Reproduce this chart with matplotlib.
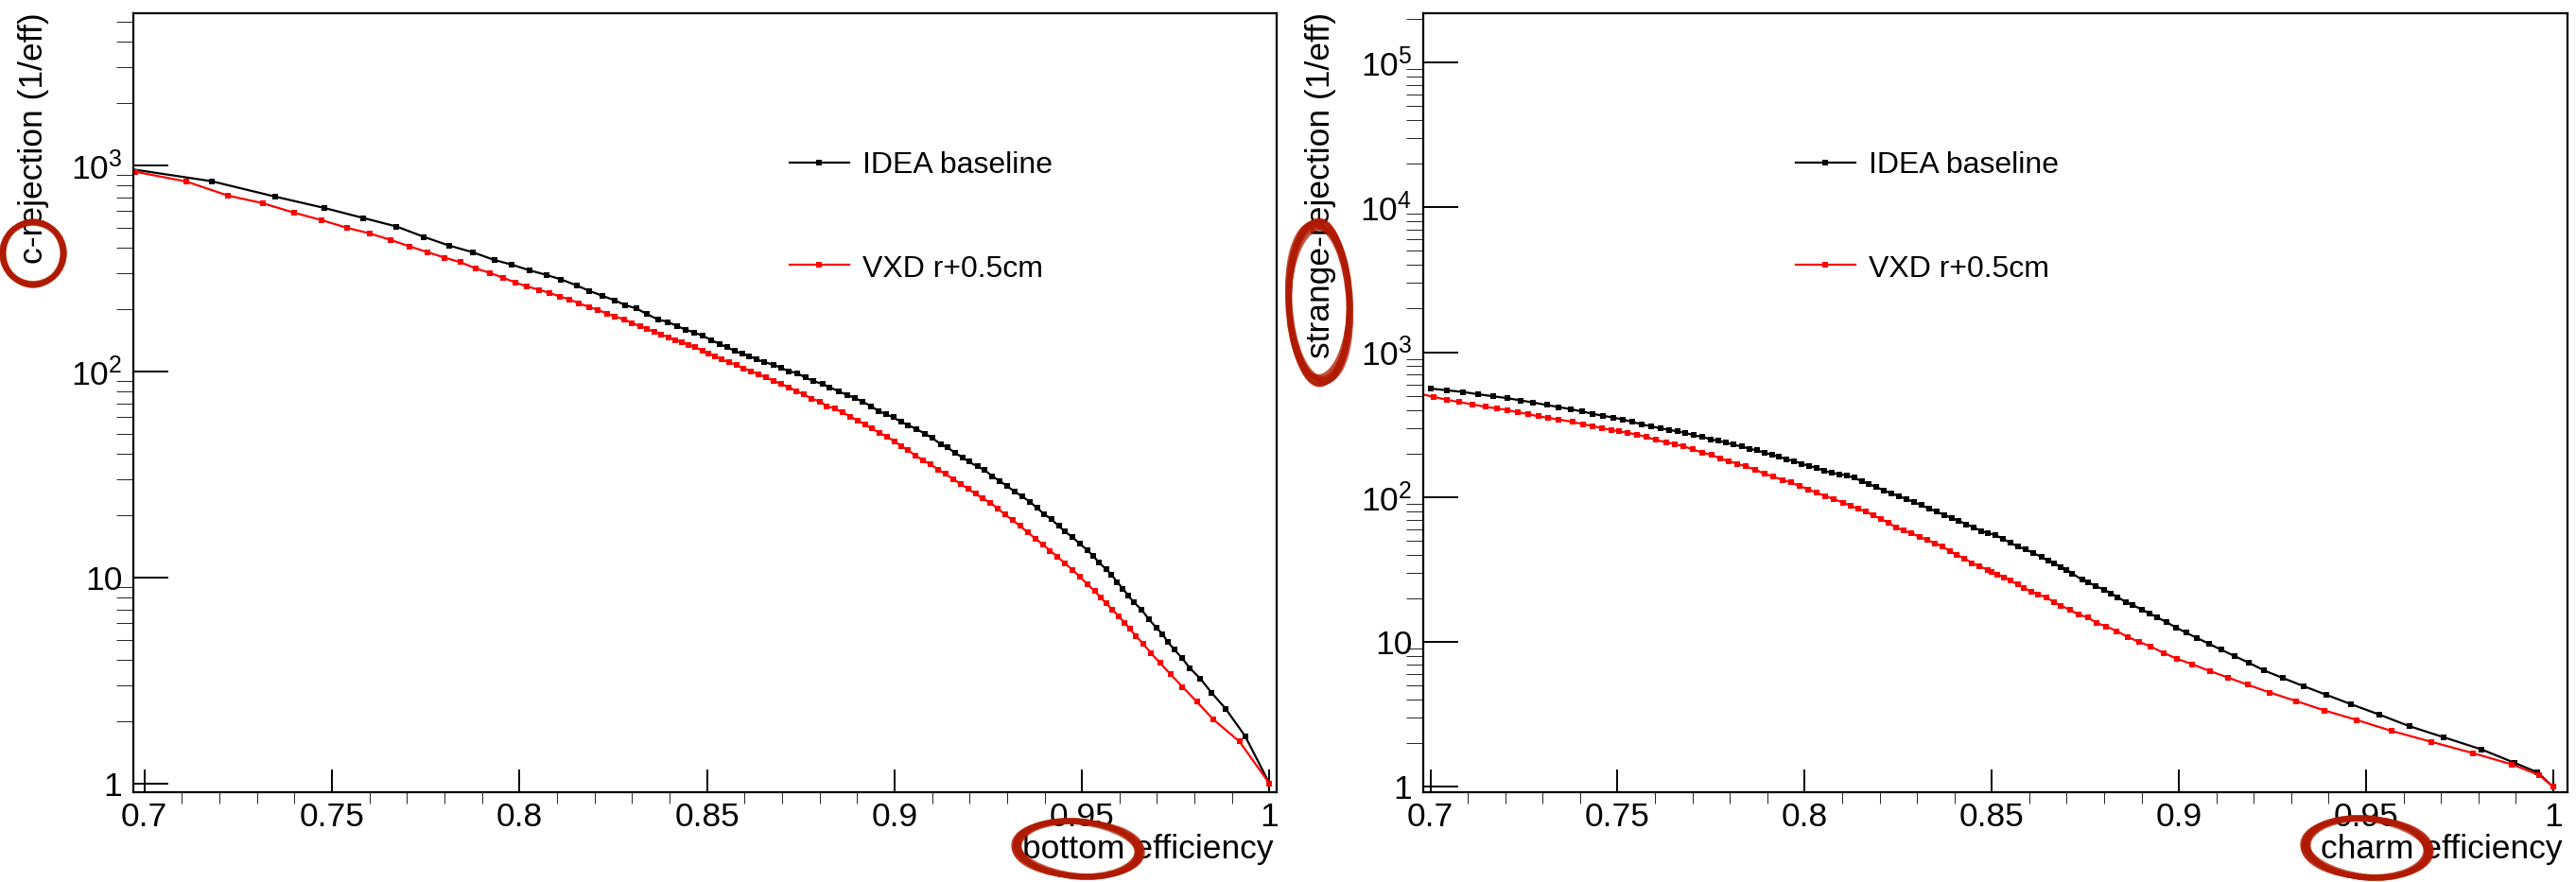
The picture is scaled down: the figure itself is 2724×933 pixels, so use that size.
import matplotlib
matplotlib.use("Agg")
import numpy as np
import matplotlib.pyplot as plt
from matplotlib.patches import Ellipse
from matplotlib.transforms import IdentityTransform
from matplotlib.ticker import MultipleLocator, LogLocator, FuncFormatter, NullFormatter

plt.rcParams['font.family'] = ['Liberation Sans', 'DejaVu Sans']
plt.rcParams['mathtext.fontset'] = 'custom'
plt.rcParams['mathtext.rm'] = 'Liberation Sans'
plt.rcParams['mathtext.default'] = 'regular'

# ---- b-tagging: c-rejection vs bottom efficiency ----
b_eff_base = [0.690, 0.7179, 0.7349, 0.7480, 0.7584, 0.7672, 0.7746, 0.7812, 0.7876, 0.7933,
              0.7980, 0.8027, 0.8073, 0.8111, 0.8152, 0.8187, 0.8222, 0.8255, 0.8283, 0.8313,
              0.8340, 0.8369, 0.8396, 0.8421, 0.8442, 0.8465,
              0.8489, 0.8512, 0.8534, 0.8554, 0.8574, 0.8594, 0.8613, 0.8633, 0.8653, 0.8678,
              0.8698, 0.8718, 0.8741, 0.8763, 0.8783, 0.8808, 0.8827, 0.8852, 0.8874, 0.8894,
              0.8914, 0.8937, 0.8957, 0.8977, 0.8997, 0.9017, 0.9036, 0.9059, 0.9081, 0.9101,
              0.9123, 0.9141, 0.9161, 0.9181, 0.9199, 0.9221, 0.9241, 0.9260, 0.9280, 0.9300,
              0.9320, 0.9340, 0.9360, 0.9380, 0.9398, 0.9418, 0.9438, 0.9455, 0.9475, 0.9494,
              0.9514, 0.9529, 0.9544, 0.9564, 0.9579, 0.9594, 0.9609, 0.9624, 0.9639, 0.9659,
              0.9679, 0.9698, 0.9715, 0.9728, 0.9746, 0.9766, 0.9788, 0.9815, 0.9845, 0.9883,
              0.9935, 1.0]
c_rej_base = [1000, 839, 706, 622, 556, 506, 450, 409, 379, 348,
              330, 310, 294, 280, 262, 246, 233, 221, 210, 202,
              190, 179, 174, 166, 160, 155,
              149, 142, 136, 131, 126, 122, 119, 114.5, 111, 108,
              104, 100.5, 98, 93.5, 90, 87, 84, 80, 77, 74.5,
              71.5, 68, 64.5, 62, 60, 57, 55, 52.5, 50, 47.5,
              44.5, 42.8, 40.4, 38.3, 36.5, 34.6, 33.2, 31.1, 29.5, 27.8,
              26.2, 24.8, 23.4, 21.8, 20.4, 19.2, 17.8, 16.7, 15.7, 14.6,
              13.6, 12.8, 11.9, 11.0, 10.3, 9.5, 8.85, 8.14, 7.57, 6.98,
              6.26, 5.72, 5.31, 4.89, 4.48, 4.08, 3.63, 3.24, 2.77, 2.31,
              1.7, 1.0]

b_eff_vxd = [0.6976, 0.7112, 0.7223, 0.7316, 0.7399, 0.7473, 0.7541, 0.7601, 0.7657, 0.7707,
             0.7754, 0.7801, 0.7843, 0.7883, 0.7921, 0.7957, 0.7990, 0.8020, 0.8053, 0.8080,
             0.8108, 0.8134, 0.8159, 0.8185, 0.8209, 0.8234, 0.8255, 0.8279, 0.8300, 0.8321,
             0.8340, 0.8360, 0.8378, 0.8397, 0.8415, 0.8433, 0.8451, 0.8469,
             0.8489, 0.8504, 0.8522, 0.8539, 0.8559, 0.8579, 0.8598, 0.8618, 0.8638, 0.8658,
             0.8678, 0.8698, 0.8718, 0.8738, 0.8758, 0.8778, 0.8801, 0.8820, 0.8842, 0.8862,
             0.8882, 0.8902, 0.8922, 0.8940, 0.8960, 0.8980, 0.9000, 0.9017, 0.9036, 0.9056,
             0.9076, 0.9096, 0.9116, 0.9136, 0.9156, 0.9176, 0.9196, 0.9216, 0.9236, 0.9256,
             0.9275, 0.9295, 0.9315, 0.9335, 0.9355, 0.9375, 0.9395, 0.9415, 0.9435, 0.9455,
             0.9475, 0.9494, 0.9514, 0.9534, 0.9549, 0.9564, 0.9581, 0.9597, 0.9614, 0.9627,
             0.9644, 0.9664, 0.9684, 0.9708, 0.9736, 0.9768, 0.9806, 0.9850, 0.9920, 1.0]
c_rej_vxd = [932, 836, 714, 656, 590, 543, 498, 468, 435, 405,
             380, 357, 339, 317, 301, 285, 270, 259, 249, 241,
             231, 224, 214, 206, 199, 191, 185, 179, 172, 166,
             161, 156, 151, 147, 142, 139, 135, 131,
             126, 122, 119, 114.5, 111, 107.5, 103.5, 100.5, 97, 93.5,
             90, 87, 84, 80.5, 77.5, 74, 71.5, 68, 66, 63.3,
             60.5, 57.8, 55.4, 52.8, 50.4, 48.3, 45.8, 43.6, 41.5, 39.1,
             37.1, 35.5, 33.5, 31.8, 30.1, 28.5, 27.0, 25.5, 24.2, 23.0,
             21.7, 20.2, 19.0, 17.8, 16.6, 15.5, 14.5, 13.5, 12.6, 11.7,
             10.9, 10.1, 9.3, 8.6, 8.05, 7.5, 7.0, 6.5, 6.05, 5.65,
             5.2, 4.75, 4.3, 3.85, 3.4, 2.95, 2.5, 2.05, 1.6, 1.0]

# ---- c-tagging: strange-rejection vs charm efficiency ----
c_eff_base = [0.7000, 0.7043, 0.7088, 0.7128, 0.7168, 0.7205, 0.7240, 0.7273, 0.7311, 0.7343,
              0.7375, 0.7405, 0.7433, 0.7461, 0.7488, 0.7514, 0.7540, 0.7564, 0.7590, 0.7614,
              0.7637, 0.7660, 0.7682, 0.7704, 0.7727, 0.7750, 0.7770, 0.7790, 0.7810, 0.7832,
              0.7852, 0.7872, 0.7892, 0.7912, 0.7932, 0.7952, 0.7972, 0.7992, 0.8012, 0.8032,
              0.8052, 0.8072, 0.8092, 0.8112, 0.8132, 0.8152, 0.8172, 0.8192, 0.8212, 0.8232,
              0.8252, 0.8272, 0.8292, 0.8312, 0.8332, 0.8352, 0.8372, 0.8392, 0.8412, 0.8432,
              0.8452, 0.8472,
              0.8489, 0.8509, 0.8529, 0.8550, 0.8570, 0.8590, 0.8610, 0.8633, 0.8650, 0.8667,
              0.8685, 0.8700, 0.8715, 0.8741, 0.8758, 0.8778, 0.8801, 0.8818, 0.8836, 0.8858,
              0.8876, 0.8902, 0.8922, 0.8942, 0.8967, 0.8992, 0.9019, 0.9047, 0.9080, 0.9113,
              0.9148, 0.9186, 0.9228, 0.9278, 0.9334, 0.9394, 0.9460, 0.9535, 0.9615, 0.9708,
              0.9807, 0.9896, 0.9958, 1.0]
s_rej_base = [561, 546, 531, 512, 496, 482, 465, 450, 432, 418,
              404, 390, 376, 364, 354, 343, 330, 318, 308, 298,
              291, 284, 277, 267, 260, 250, 244, 238, 230, 223,
              216, 210, 203, 196, 190, 182, 177, 170, 164, 159,
              152, 147, 144, 141, 136, 129, 123, 117, 111, 106,
              101.5, 97, 92.3, 87.8, 83.5, 79.4, 75.5, 71.9, 68.3, 65.0,
              61.8, 58.2,
              56.5, 54.8, 51.6, 48.3, 45.5, 43.7, 41.2, 38.6, 36.3, 34.9,
              32.9, 31.6, 29.7, 26.9, 25.8, 24.3, 22.9, 21.7, 20.4, 18.9,
              18.0, 16.7, 15.7, 14.8, 13.7, 12.6, 11.6, 10.7, 9.73, 8.85,
              8.01, 7.21, 6.36, 5.64, 4.95, 4.32, 3.72, 3.16, 2.63, 2.20,
              1.82, 1.47, 1.26, 1.0]

c_eff_vxd = [0.695, 0.7008, 0.7043, 0.7078, 0.7113, 0.7148, 0.7178, 0.7205, 0.7233, 0.7261, 0.7288,
             0.7315, 0.7343, 0.7381, 0.7408, 0.7433, 0.7458, 0.7483, 0.7504, 0.7527, 0.7552,
             0.7577, 0.7602, 0.7630, 0.7654, 0.7677, 0.7702, 0.7727, 0.7752, 0.7774, 0.7797,
             0.7820, 0.7842, 0.7867, 0.7892, 0.7917, 0.7942, 0.7964, 0.7987, 0.8010, 0.8032,
             0.8054, 0.8077, 0.8102, 0.8122, 0.8142, 0.8164, 0.8184, 0.8204, 0.8224, 0.8244,
             0.8264, 0.8284, 0.8307, 0.8327, 0.8347, 0.8367, 0.8387, 0.8407, 0.8427, 0.8447,
             0.8467,
             0.8489, 0.8499, 0.8514, 0.8533, 0.8550, 0.8570, 0.8585, 0.8605, 0.8623, 0.8645,
             0.8665, 0.8685, 0.8708, 0.8731, 0.8756, 0.8781, 0.8806, 0.8834, 0.8864, 0.8894,
             0.8925, 0.8959, 0.8995, 0.9035, 0.9083, 0.9130, 0.9183, 0.9243, 0.9314, 0.9389,
             0.9475, 0.9567, 0.9674, 0.9786, 0.9890, 0.9962, 1.0]
s_rej_vxd = [531, 492, 470, 452, 436, 419, 409, 399, 385, 374, 361,
             352, 343, 330, 318, 310, 298, 291, 284, 278, 270,
             260, 248, 239, 232, 224, 213, 203, 195, 185, 177,
             170, 163, 155, 145, 138, 131, 126, 119, 113, 107,
             102, 97.0, 91.8, 87.3, 83.1, 79.4, 74.8, 70.8, 66.3, 61.8,
             58.8, 56.5, 53.2, 50.6, 48.1, 45.8, 42.5, 39.8, 37.8, 35.1,
             33.2,
             31.6, 30.5, 29.3, 28.0, 26.5, 24.9, 23.7, 22.3, 21.3, 20.4,
             18.9, 17.8, 16.7, 15.5, 14.8, 13.5, 12.8, 11.9, 10.8, 10.0,
             9.30, 8.42, 7.65, 7.03, 6.30, 5.70, 5.08, 4.48, 3.91, 3.37,
             2.90, 2.44, 2.05, 1.71, 1.43, 1.21, 1.0]

labels = ['IDEA baseline', 'VXD r+0.5cm']
colors = ['black', 'red']

W, H = 2724, 933
fig = plt.figure(figsize=(W / 100, H / 100), dpi=100)
ax1 = fig.add_axes([0.0518, 0.1018, 0.4438, 0.8832])
ax2 = fig.add_axes([0.5525, 0.1018, 0.4442, 0.8832])


def log_label(v, pos):
    if v == 1:
        return '1'
    if v == 10:
        return '10'
    return r'$10^{%d}$' % round(np.log10(v))


def style(ax, xlim, ylim):
    ax.set_yscale('log')
    ax.set_xlim(*xlim)
    ax.set_ylim(*ylim)
    ax.xaxis.set_major_locator(MultipleLocator(0.05))
    ax.xaxis.set_minor_locator(MultipleLocator(0.01))
    ax.xaxis.set_major_formatter(FuncFormatter(lambda v, p: '%g' % round(v, 3)))
    ax.yaxis.set_major_locator(LogLocator(base=10))
    ax.yaxis.set_minor_locator(LogLocator(base=10, subs=range(2, 10), numticks=20))
    ax.yaxis.set_major_formatter(FuncFormatter(log_label))
    ax.yaxis.set_minor_formatter(NullFormatter())
    ax.tick_params(direction='in', top=False, right=False, labelsize=25.5, width=1.4)
    ax.tick_params(axis='x', which='major', length=17, pad=7)
    ax.tick_params(axis='x', which='minor', length=8.6)
    ax.tick_params(axis='y', which='major', length=26.5, pad=8.5)
    ax.tick_params(axis='y', which='minor', length=13)
    for s in ax.spines.values():
        s.set_linewidth(1.6)


def draw(ax, xs, ys):
    for x, y, c, lab in zip(xs, ys, colors, labels):
        ax.plot(x, y, color=c, lw=1.6, marker='s', ms=5, mew=0, label=lab)


def legend(ax, x0):
    for y_line, y_text, c, lab in zip([0.8086, 0.6772], [0.7945, 0.661], colors, labels):
        ax.plot([x0, x0 + 0.052], [y_line, y_line], transform=ax.transAxes, color=c, lw=1.6)
        ax.plot([x0 + 0.026], [y_line], transform=ax.transAxes, color=c, marker='s', ms=3.8, mew=0)
        ax.text(x0 + 0.064, y_text, lab, transform=ax.transAxes, fontsize=23, va='baseline')


draw(ax1, [b_eff_base, b_eff_vxd], [c_rej_base, c_rej_vxd])
style(ax1, (0.6971, 1.0019), (0.909, 5480))
legend(ax1, 0.574)
ax1.text(-0.0877, 1.001, 'c-rejection (1/eff)', transform=ax1.transAxes,
         rotation=90, ha='center', va='top', fontsize=25.5)
ax1.text(0.9975, -0.074, 'bottom efficiency', transform=ax1.transAxes,
         ha='right', va='center', fontsize=25.5)

draw(ax2, [c_eff_base, c_eff_vxd], [s_rej_base, s_rej_vxd])
style(ax2, (0.6981, 1.0038), (0.92, 2.18e5))
legend(ax2, 0.3256)
ax2.text(-0.0893, 1.001, 'strange-rejection (1/eff)', transform=ax2.transAxes,
         rotation=90, ha='center', va='top', fontsize=25.5)
ax2.text(0.9959, -0.074, 'charm efficiency', transform=ax2.transAxes,
         ha='right', va='center', fontsize=25.5)

# hand-drawn red rings around the highlighted words (pixel coordinates)
strokes = [(0, 0, 0), (-0.05, 0.04, 2), (0.05, -0.04, -2), (-0.08, -0.06, 1),
           (0.03, 0.07, -1), (0.07, 0.02, 3), (-0.02, -0.09, -3), (0.09, 0.05, 0),
           (-0.06, 0.08, -2), (0.01, -0.02, 1)]


def ring(cx, cy, w, h, angle=0):
    for dw, dh, da in strokes:
        fig.add_artist(Ellipse((cx, H - cy), w * (1 + dw * 0.7), h * (1 + dh * 0.7),
                               angle=angle + da, transform=IdentityTransform(),
                               fill=False, ec='#b01a00', lw=2.6, alpha=0.75))


ring(35, 268, 64, 66)
ring(1140, 898, 130, 58, -4)
ring(1395, 320, 64, 166, 2)
ring(2503, 897, 130, 62, -4)

fig.savefig('out.png', dpi=100)
